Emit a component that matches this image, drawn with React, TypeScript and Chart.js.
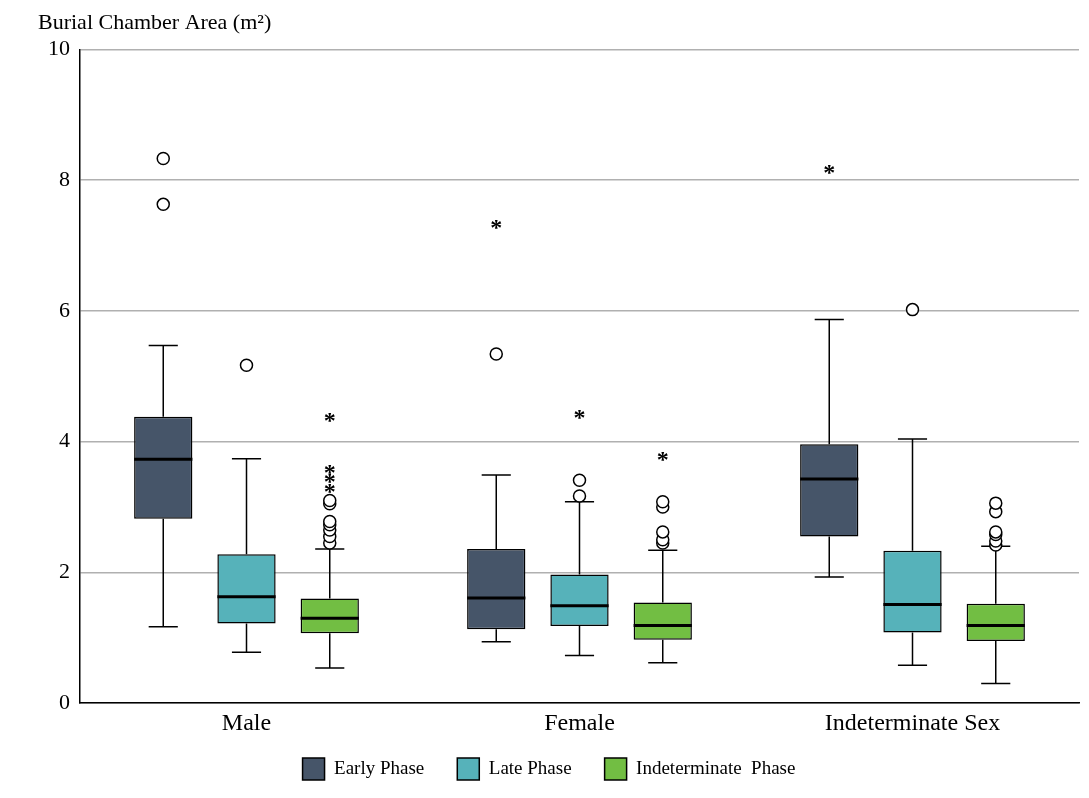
import React, { useEffect, useRef } from "react";
import { Chart, registerables } from "chart.js";
Chart.register(...registerables);

const categories = ["Male", "Female", "Indeterminate Sex"];
const seriesNames = ["Early Phase", "Late Phase", "Indeterminate  Phase"];
const seriesColors = ["#465569", "#56b2ba", "#72be43"];
// [low whisker, Q1, median, Q3, high whisker] per category
const earlyStats = [[1.17, 2.82, 3.73, 4.38, 5.47], [0.94, 1.13, 1.61, 2.36, 3.49], [1.93, 2.55, 3.43, 3.96, 5.87]];
const lateStats = [[0.78, 1.22, 1.63, 2.28, 3.74], [0.73, 1.18, 1.49, 1.97, 3.08], [0.58, 1.08, 1.51, 2.33, 4.04]];
const indetStats = [[0.54, 1.07, 1.30, 1.60, 2.36], [0.62, 0.97, 1.19, 1.54, 2.34], [0.30, 0.95, 1.19, 1.52, 2.40]];
const earlyCircles = [[8.33, 7.63], [5.34], []];
const lateCircles = [[5.17], [3.17, 3.41], [6.02]];
const indetCircles = [[2.45, 2.55, 2.65, 2.73, 2.78, 3.05, 3.10], [2.45, 2.50, 2.62, 3.00, 3.08], [2.42, 2.48, 2.58, 2.62, 2.93, 3.06]];
const earlyStars = [[], [7.33], [8.17]];
const lateStars = [[], [4.42], []];
const indetStars = [[3.30, 3.45, 3.58, 4.38], [3.78], []];
const yTicks = [0, 2, 4, 6, 8, 10];

const allStats = [earlyStats, lateStats, indetStats];
const allCircles = [earlyCircles, lateCircles, indetCircles];
const allStars = [earlyStars, lateStars, indetStars];

const boxPlugin = {
  id: "boxExtras",
  afterDatasetsDraw(chart: any) {
    const ctx = chart.ctx;
    const y = chart.scales.y;
    ctx.save();
    allStats.forEach((stats, d) => {
      const meta = chart.getDatasetMeta(d);
      meta.data.forEach((el: any, i: number) => {
        const [lo, q1, med, q3, hi] = stats[i];
        const x = el.x;
        const w = el.width;
        ctx.strokeStyle = "#000";
        ctx.lineWidth = 1.5;
        ctx.beginPath();
        ctx.moveTo(x, y.getPixelForValue(q3));
        ctx.lineTo(x, y.getPixelForValue(hi));
        ctx.moveTo(x, y.getPixelForValue(q1));
        ctx.lineTo(x, y.getPixelForValue(lo));
        ctx.moveTo(x - w / 4, y.getPixelForValue(hi));
        ctx.lineTo(x + w / 4, y.getPixelForValue(hi));
        ctx.moveTo(x - w / 4, y.getPixelForValue(lo));
        ctx.lineTo(x + w / 4, y.getPixelForValue(lo));
        ctx.stroke();
        ctx.lineWidth = 3;
        ctx.beginPath();
        ctx.moveTo(x - w / 2, y.getPixelForValue(med));
        ctx.lineTo(x + w / 2, y.getPixelForValue(med));
        ctx.stroke();
        ctx.lineWidth = 1.5;
        allCircles[d][i].forEach((v) => {
          ctx.beginPath();
          ctx.arc(x, y.getPixelForValue(v), 6, 0, Math.PI * 2);
          ctx.fillStyle = "#fff";
          ctx.fill();
          ctx.stroke();
        });
        ctx.fillStyle = "#000";
        ctx.font = "bold 24px 'Liberation Serif'";
        ctx.textAlign = "center";
        ctx.textBaseline = "middle";
        allStars[d][i].forEach((v) => {
          ctx.fillText("*", x, y.getPixelForValue(v) + 5);
        });
      });
    });
    ctx.restore();
  },
};

export default function App() {
  const ref = useRef<HTMLCanvasElement>(null);
  useEffect(() => {
    const chart = new Chart(ref.current!, {
      type: "bar",
      data: {
        labels: categories,
        datasets: allStats.map((s, d) => ({
          label: seriesNames[d],
          data: s.map((r) => [r[1], r[3]]) as any,
          backgroundColor: seriesColors[d],
          borderColor: "#000",
          borderWidth: 1.5,
          borderSkipped: false,
          barPercentage: 0.7,
          categoryPercentage: 0.75,
        })),
      },
      options: {
        animation: false,
        responsive: true,
        maintainAspectRatio: false,
        layout: { padding: { left: 30, right: 2, top: 0, bottom: 0 } },
        plugins: {
          tooltip: { enabled: false },
          title: {
            display: true,
            text: "Burial Chamber Area (m²)",
            align: "start",
            color: "#000",
            font: { family: "Liberation Serif", size: 22, weight: "normal" },
            padding: { top: 2, bottom: 13 },
          },
          legend: {
            position: "bottom",
            labels: {
              color: "#000",
              boxWidth: 22,
              boxHeight: 22,
              padding: 14,
              font: { family: "Liberation Serif", size: 19 },
              generateLabels: () =>
                seriesNames.map((n, d) => ({
                  text: n + "    ",
                  fillStyle: seriesColors[d],
                  strokeStyle: "#000",
                  lineWidth: 1.5,
                  datasetIndex: d,
                })) as any,
            },
          },
        },
        scales: {
          x: {
            grid: { display: false, drawTicks: false },
            border: { color: "#000", width: 1.5 },
            ticks: { color: "#000", font: { family: "Liberation Serif", size: 24 }, padding: 6 },
          },
          y: {
            min: 0,
            max: 10,
            afterBuildTicks: (s: any) => { s.ticks = yTicks.map((v) => ({ value: v })); },
            grid: { color: "#b0b0b0", lineWidth: 1.5, drawTicks: false },
            border: { color: "#000", width: 1.5 },
            ticks: { color: "#000", font: { family: "Liberation Serif", size: 22 }, padding: 10 },
          },
        },
      },
      plugins: [boxPlugin],
    });
    return () => chart.destroy();
  }, []);
  return (
    <div style={{ width: "100%", height: 782 }}>
      <canvas ref={ref} />
    </div>
  );
}
